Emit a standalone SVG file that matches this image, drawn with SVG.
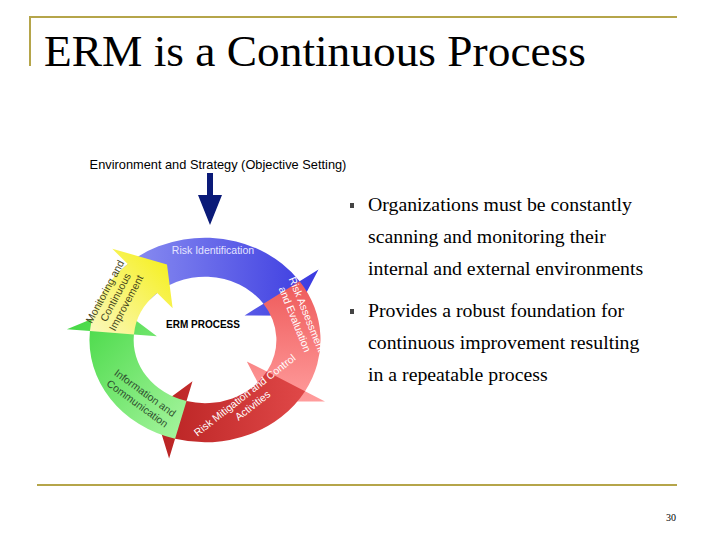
<svg xmlns="http://www.w3.org/2000/svg" width="720" height="540" viewBox="0 0 720 540">
<style>
.serif{font-family:"Liberation Serif",serif;fill:#000}
.sans{font-family:"Liberation Sans",Arial,sans-serif}
.lbl{font-family:"Liberation Sans",Arial,sans-serif;font-size:10.5px}
.seg{stroke:none}
</style>
<defs>
<linearGradient id="gb" x1="0" y1="0" x2="1" y2="0"><stop offset="0" stop-color="#8f93f2"/><stop offset="1" stop-color="#3a3ae0"/></linearGradient>
<linearGradient id="gr" x1="0" y1="0" x2="0" y2="1"><stop offset="0" stop-color="#ee5a5a"/><stop offset="1" stop-color="#ff9c9c"/></linearGradient>
<linearGradient id="gd" x1="1" y1="0" x2="0" y2="0"><stop offset="0" stop-color="#e04848"/><stop offset="1" stop-color="#b82222"/></linearGradient>
<linearGradient id="gg" x1="1" y1="1" x2="0" y2="0"><stop offset="0" stop-color="#a8f5a0"/><stop offset="1" stop-color="#3dd63d"/></linearGradient>
<linearGradient id="gy" x1="0" y1="1" x2="1" y2="0"><stop offset="0" stop-color="#fbf8c0"/><stop offset="1" stop-color="#f5ef10"/></linearGradient>
</defs>
<g id="frame" stroke="#b5a54a" stroke-width="2" fill="none">
<path d="M30 66 V17 H677"/>
<path d="M37 485 H677"/>
</g>
<text id="title" class="serif" x="44" y="66" font-size="44" textLength="542" lengthAdjust="spacingAndGlyphs">ERM is a Continuous Process</text>
<g id="cycle" transform="translate(205,340) scale(1.05,0.93)">
<path id="blue" class="seg" fill="url(#gb)" d="M-84.3,-70.7 A110 110 0 0 1 90.1,-63.1 L108.1,-75.7 L85.1,-26 L37.7,-26.4 L55.7,-39 A68 68 0 0 0 -52.1,-43.7 Z"/>
<path id="red" class="seg" fill="url(#gr)" d="M90.1,-63.1 A110 110 0 0 1 95.3,55 L114.3,66 L59.6,66.1 L39.8,23 L58.9,34 A68 68 0 0 0 55.7,-39 Z"/>
<path id="darkred" class="seg" fill="url(#gd)" d="M95.3,55 A110 110 0 0 1 -28.5,106.3 L-34.2,127.5 L-48.5,74.6 L-11.9,44.4 L-17.6,65.7 A68 68 0 0 0 58.9,34 Z"/>
<path id="green" class="seg" fill="url(#gg)" d="M-28.5,106.3 A110 110 0 0 1 -109.6,-9.6 L-131.5,-11.5 L-81.9,-34.8 L-45.8,-4 L-67.7,-5.9 A68 68 0 0 0 -17.6,65.7 Z"/>
<path id="yellow" class="seg" fill="url(#gy)" d="M-109.6,-9.6 A110 110 0 0 1 -73.6,-81.7 L-88.3,-98.1 L-36.2,-81.3 L-30.8,-34.2 L-45.5,-50.5 A68 68 0 0 0 -67.7,-5.9 Z"/>
</g>
<g id="labels">
<text class="lbl" x="213" y="254" text-anchor="middle" style="fill:#e4e4ff">Risk Identification</text>
<text class="lbl" transform="translate(298,318) rotate(68)" text-anchor="middle" style="fill:#fff"><tspan x="0" y="-6">Risk Assessment</tspan><tspan x="0" y="7">and Evaluation</tspan></text>
<text class="lbl" transform="translate(250,402) rotate(-38)" text-anchor="middle" style="fill:#fff"><tspan x="0" y="-5">Risk Mitigation and Control</tspan><tspan x="0" y="8">Activities</tspan></text>
<text class="lbl" transform="translate(140,400) rotate(36)" text-anchor="middle" style="fill:#2f4f2f"><tspan x="0" y="-5">Information and</tspan><tspan x="0" y="8">Communication</tspan></text>
<text class="lbl" transform="translate(117,298) rotate(-62)" text-anchor="middle" style="fill:#44441a"><tspan x="0" y="-10">Monitoring and</tspan><tspan x="0" y="2">Continuous</tspan><tspan x="0" y="14">Improvement</tspan></text>
<text class="sans" x="203" y="328" font-size="10" font-weight="bold" text-anchor="middle">ERM PROCESS</text>
</g>
<g id="input">
<text class="sans" x="218" y="169" font-size="12.8" text-anchor="middle">Environment and Strategy (Objective Setting)</text>
<path d="M207 173 H213 V195 H222 L210 225 L198 195 H207 Z" fill="#0a1a78"/>
</g>
<g id="bullets">
<rect x="350" y="203" width="4" height="5" fill="#444"/>
<rect x="350" y="309" width="4" height="5" fill="#444"/>
<text class="serif" font-size="19.8"><tspan x="368" y="211">Organizations must be constantly</tspan><tspan x="368" y="243">scanning and monitoring their</tspan><tspan x="368" y="275">internal and external environments</tspan></text>
<text class="serif" font-size="19.8"><tspan x="368" y="317">Provides a robust foundation for</tspan><tspan x="368" y="349">continuous improvement resulting</tspan><tspan x="368" y="381">in a repeatable process</tspan></text>
</g>
<text id="page" class="serif" x="676" y="521" font-size="10" text-anchor="end">30</text>
</svg>
